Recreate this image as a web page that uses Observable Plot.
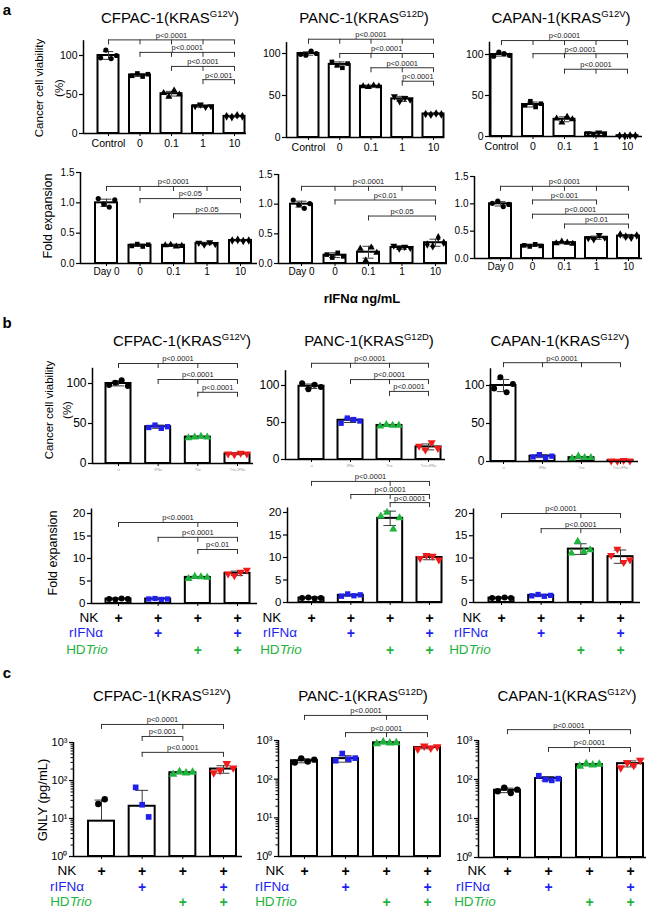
<!DOCTYPE html>
<html><head><meta charset="utf-8">
<script src="https://cdn.jsdelivr.net/npm/d3@7"></script>
<script src="https://cdn.jsdelivr.net/npm/@observablehq/plot@0.6"></script>
<style>
html,body{margin:0;padding:0;background:#fff;}
#fig{position:relative;width:660px;height:910px;overflow:hidden;font-family:"Liberation Sans",Arial,Helvetica,sans-serif;color:#000;background:#fff;}
.t{position:absolute;white-space:nowrap;line-height:1;transform:translate(-50%,-50%);}
.rot{transform:translate(-50%,-50%) rotate(-90deg);}
.title{font-size:15px;}
.title sup{font-size:9.5px;vertical-align:0;position:relative;top:-6px;}
.letter{font-size:15px;font-weight:bold;}
.cond{font-size:13.5px;}
</style></head><body><div id="fig"></div>
<script>
// ===================== DATA =====================
const cellNames = ["CFPAC-1", "PANC-1", "CAPAN-1"];
const cellMutations = ["G12V", "G12D", "G12V"];
const doseLabels = ["Control", "0", "0.1", "1", "10"];
const dayLabels = ["Day 0", "0", "0.1", "1", "10"];
const comboLabels = ["ct", "IFNa", "Trio", "Trio+IFNa"];
const pctTicks = [0, 50, 100];
const foldTicksA = [0, 0.5, 1.0, 1.5];
const foldTicksB = [0, 5, 10, 15, 20];
const logTicks = [1, 10, 100, 1000];
const condNK = [1, 1, 1, 1];
const condIFN = [0, 1, 0, 1];
const condTrio = [0, 0, 1, 1];

// a (top): cancer cell viability (%) vs rIFNa ng/mL
const aViabMean_CFPAC = [100, 75, 51, 35, 22];
const aViabSD_CFPAC = [5, 2, 3, 1.5, 1];
const aViabPts_CFPAC = [[97, 107, 96, 100], [74, 77, 73, 76], [52, 47, 55, 50], [35, 37, 34, 35], [22, 21, 23.5, 22]];
const aViabBr_CFPAC = [[0, 4, 120, "p<0.0001", [0, 1, 2, 3, 4]], [1, 4, 104, "p<0.0001", [1, 2, 3, 4]], [2, 4, 86, "p<0.0001", [2, 3, 4]], [3, 4, 69, "p<0.001", [3, 4]]];
const aViabMean_PANC = [100, 87, 61, 46, 28];
const aViabSD_PANC = [2, 3, 1, 3, 0.8];
const aViabPts_PANC = [[99, 98, 103, 100], [90, 86, 83, 88], [61, 60, 62, 61], [49, 43, 47, 45], [28, 27, 28.5, 27.5]];
const aViabBr_PANC = [[0, 4, 117, "p<0.0001", [0, 1, 2, 3, 4]], [1, 4, 100, "p<0.0001", [1, 2, 3, 4]], [2, 4, 83, "p<0.0001", [2, 3, 4]], [3, 4, 67, "p<0.0001", [3, 4]]];
const aViabMean_CAPAN = [100, 39, 21, 4, 1];
const aViabSD_CAPAN = [2, 3, 3, 1, 0.4];
const aViabPts_CAPAN = [[98, 103, 101, 99], [38, 43, 36, 40], [22, 17, 24, 21], [4, 3, 5, 3.5], [1, 0.5, 1.3, 1]];
const aViabBr_CAPAN = [[0, 4, 117, "p<0.0001", [0, 1, 2, 3, 4]], [1, 4, 101, "p<0.0001", [1, 2, 3, 4]], [2, 4, 82, "p<0.0001", [2, 3, 4]]];

// a (bottom): NK fold expansion vs rIFNa ng/mL
const aFoldMean_CFPAC = [1.0, 0.30, 0.30, 0.33, 0.38];
const aFoldSD_CFPAC = [0.06, 0.02, 0.015, 0.02, 0.01];
const aFoldPts_CFPAC = [[1.07, 0.98, 0.93, 1.05], [0.29, 0.32, 0.28, 0.31], [0.30, 0.31, 0.28, 0.29], [0.34, 0.31, 0.35, 0.32], [0.38, 0.39, 0.37, 0.38]];
const aFoldBr_CFPAC = [[0, 4, 1.27, "p<0.0001", [0, 1, 2, 3, 4]], [1, 4, 1.07, "p<0.05", [1, 4]], [2, 4, 0.82, "p<0.05", [2, 4]]];
const aFoldMean_PANC = [1.0, 0.14, 0.19, 0.27, 0.35];
const aFoldSD_PANC = [0.05, 0.04, 0.1, 0.03, 0.06];
const aFoldPts_PANC = [[1.07, 0.99, 0.93, 1.01], [0.15, 0.10, 0.18, 0.12], [0.25, 0.05, 0.27, 0.18], [0.30, 0.25, 0.28, 0.26], [0.32, 0.29, 0.44, 0.35]];
const aFoldBr_PANC = [[0, 4, 1.30, "p<0.0001", [0, 1, 2, 3, 4]], [1, 4, 1.07, "p<0.01", [1, 4]], [2, 4, 0.80, "p<0.05", [2, 4]]];
const aFoldMean_CAPAN = [1.0, 0.24, 0.29, 0.38, 0.41];
const aFoldSD_CAPAN = [0.04, 0.02, 0.02, 0.03, 0.03];
const aFoldPts_CAPAN = [[1.01, 1.05, 0.95, 0.99], [0.24, 0.22, 0.26, 0.23], [0.28, 0.31, 0.29, 0.27], [0.37, 0.35, 0.43, 0.38], [0.44, 0.40, 0.38, 0.42]];
const aFoldBr_CAPAN = [[0, 4, 1.32, "p<0.0001", [0, 1, 2, 3, 4]], [1, 3, 1.07, "p<0.001", [1, 3]], [1, 4, 0.81, "p<0.0001", [1, 4]], [2, 4, 0.63, "p<0.01", [2, 4]]];

// b (top): cancer cell viability (%) by treatment
const bViabMean_CFPAC = [100, 46, 33, 12];
const bViabSD_CFPAC = [3, 2, 1, 1];
const bViabPts_CFPAC = [[98, 101, 104, 97], [45, 48, 44, 46], [32, 33, 34, 33], [12, 11, 13, 12]];
const bViabBr_CFPAC = [[0, 3, 125, "p<0.0001", [0, 1, 2, 3]], [1, 3, 105, "p<0.0001", [1, 2, 3]], [2, 3, 89, "p<0.0001", [2, 3]]];
const bViabMean_PANC = [99, 53, 46, 17];
const bViabSD_PANC = [3, 3, 1, 4];
const bViabPts_PANC = [[103, 95, 101, 98], [49, 56, 54, 52], [45, 47, 46, 46], [18, 13, 23, 15]];
const bViabBr_PANC = [[0, 3, 130, "p<0.0001", [0, 1, 2, 3]], [1, 3, 108, "p<0.0001", [1, 2, 3]], [2, 3, 92, "p<0.0001", [2, 3]]];
const bViabMean_CAPAN = [100, 7, 5, 1];
const bViabSD_CAPAN = [8, 2, 1.5, 0.5];
const bViabPts_CAPAN = [[96, 111, 91, 102], [6, 9, 5, 7], [4, 7, 5, 5], [1, 0.5, 1.5, 1]];
const bViabBr_CAPAN = [[0, 3, 130, "p<0.0001", [0, 1, 2, 3]]];

// b (bottom): NK fold expansion by treatment
const bFoldMean_CFPAC = [1.0, 1.0, 5.8, 6.7];
const bFoldSD_CFPAC = [0.1, 0.1, 0.2, 0.5];
const bFoldPts_CFPAC = [[1.0, 0.9, 1.1, 1.0], [1.0, 1.1, 0.9, 1.0], [5.5, 6.0, 5.9, 5.8], [6.6, 6.2, 7.0, 7.4]];
const bFoldBr_CFPAC = [[0, 3, 18, "p<0.0001", [0, 2, 3]], [1, 3, 14.7, "p<0.0001", [1, 2, 3]], [2, 3, 12, "p<0.01", [2, 3]]];
const bFoldMean_PANC = [1.0, 1.6, 18.7, 10.0];
const bFoldSD_PANC = [0.1, 0.2, 1.6, 0.5];
const bFoldPts_PANC = [[1.0, 1.1, 0.9, 1.0], [1.4, 1.9, 1.5, 1.7], [19.2, 20.0, 16.3, 18.8], [9.8, 10.5, 10.3, 9.5]];
const bFoldBr_PANC = [[0, 3, 26.9, "p<0.0001", [0, 2, 3]], [1, 3, 24, "p<0.0001", [1, 2, 3]], [2, 3, 22.2, "p<0.0001", [2, 3]]];
const bFoldMean_CAPAN = [1.0, 1.6, 12.0, 10.3];
const bFoldSD_CAPAN = [0.1, 0.2, 1.2, 1.5];
const bFoldPts_CAPAN = [[1.0, 0.9, 1.1, 1.0], [1.5, 1.8, 1.4, 1.6], [11.1, 13.7, 11.4, 11.8], [10.6, 12.0, 9.0, 9.6]];
const bFoldBr_CAPAN = [[0, 3, 20, "p<0.0001", [0, 2, 3]], [1, 3, 16.6, "p<0.0001", [1, 2, 3]]];

// c: GNLY (pg/mL), log scale
const cGnlyMean_CFPAC = [8.5, 21, 160, 200];
const cGnlySD_CFPAC = [22, 34, 10, 45];
const cGnlyPts_CFPAC = [[24, 32], [66, 23, 11], [145, 170, 158, 165], [160, 185, 280, 215]];
const cGnlyBr_CFPAC = [[0, 3, 2980, "p<0.0001", [0, 2, 3]], [1, 2, 1440, "p<0.001", [1, 2]], [1, 3, 550, "p<0.0001", [1, 3]]];
const cGnlyMean_PANC = [300, 340, 870, 660];
const cGnlySD_PANC = [35, 65, 45, 50];
const cGnlyPts_PANC = [[270, 345, 285, 320], [300, 460, 330, 350], [820, 920, 860, 880], [600, 720, 640, 690]];
const cGnlyBr_PANC = [[0, 3, 4450, "p<0.0001", [0, 2, 3]], [1, 3, 1600, "p<0.0001", [1, 2, 3]]];
const cGnlyMean_CAPAN = [53, 106, 240, 255];
const cGnlySD_CAPAN = [7, 13, 15, 45];
const cGnlyPts_CAPAN = [[50, 62, 45, 55], [125, 100, 95, 105], [220, 255, 235, 245], [200, 270, 230, 310]];
const cGnlyBr_CAPAN = [[0, 3, 1900, "p<0.0001", [0, 2, 3]], [1, 3, 660, "p<0.0001", [1, 2, 3]]];

// ===================== STYLE / LAYOUT =====================
const BLUE = "#1f1fef", GREEN = "#1eb33c", RED = "#f21b1b";
const doseSymbols = ["circle", "square", "triangle", "triDown", "diamond"];
const doseColors = ["black", "black", "black", "black", "black"];
const comboSymbols = ["circle", "square", "triangle", "triDown"];
const comboColors = ["black", BLUE, GREEN, RED];
const condColors = ["black", BLUE, GREEN];
const supDigits = "⁰¹²³⁴⁵⁶⁷⁸⁹";
const logFmt = v => "10" + supDigits[Math.round(Math.log10(v))];
const logMinor = [1, 10, 100].flatMap(d => d3.range(2, 10).map(k => d * k));

const triDown = {
  draw(ctx, size) {
    const y = -Math.sqrt(size / (Math.sqrt(3) * 3));
    ctx.moveTo(0, -y * 2);
    ctx.lineTo(-Math.sqrt(3) * y, y);
    ctx.lineTo(Math.sqrt(3) * y, y);
    ctx.closePath();
  }
};

const LA_TOP = [
  {axisX: 83, bar0: 108, barN: 234, axisEnd: 246, y0: 133, yRef: 55, axisTop: 119},
  {axisX: 286, bar0: 308, barN: 433, axisEnd: 444, y0: 137, yRef: 53, axisTop: 113},
  {axisX: 489, bar0: 501, barN: 627, axisEnd: 642, y0: 136, yRef: 54, axisTop: 115}
];
const LA_BOT = [
  {axisX: 80, bar0: 106, barN: 240, axisEnd: 257, y0: 263, yRef: 172},
  {axisX: 278, bar0: 301, barN: 435, axisEnd: 447, y0: 263, yRef: 174},
  {axisX: 474, bar0: 500, barN: 628, axisEnd: 642, y0: 258, yRef: 176}
];
const LB_TOP = [
  {axisX: 92, bar0: 118, barN: 237, axisEnd: 253, y0: 463, yRef: 383, axisTop: 119},
  {axisX: 285, bar0: 311, barN: 428, axisEnd: 445, y0: 459, yRef: 385, axisTop: 120},
  {axisX: 490, bar0: 503, barN: 620, axisEnd: 638, y0: 461, yRef: 385, axisTop: 122}
];
const LB_BOT = [
  {axisX: 91, bar0: 118, barN: 237, axisEnd: 257, y0: 603, yRef: 513},
  {axisX: 287, bar0: 311, barN: 429, axisEnd: 442, y0: 602, yRef: 512},
  {axisX: 473, bar0: 501, barN: 620, axisEnd: 640, y0: 602, yRef: 513}
];
const LC = [
  {axisX: 73, bar0: 101, barN: 223, axisEnd: 242, y0: 856, yRef: 742},
  {axisX: 278, bar0: 304, barN: 427, axisEnd: 440, y0: 856, yRef: 740},
  {axisX: 478, bar0: 507, barN: 630, axisEnd: 646, y0: 857, yRef: 740}
];

const fig = document.getElementById("fig");

function makePanel(s) {
  const n = s.labels.length;
  const spacing = (s.barN - s.bar0) / (n - 1);
  const px = v => v / spacing;
  const left = s.axisX - 42;
  const width = Math.round(s.axisEnd - left + 10);
  const height = s.bottom - s.top;
  const base = s.log ? 1 : 0;
  const tr = v => s.log ? Math.log10(v) : v;
  const unit = (s.y0 - s.yRef) / (tr(s.refVal) - tr(base));
  const yPix = v => s.y0 - unit * (tr(v) - tr(base));
  const down = (v, p) => s.log ? v * Math.pow(10, -p / unit) : v - p / unit;
  const axisIdx = px(s.axisX - s.bar0);
  const endIdx = px(s.axisEnd - s.bar0);
  const bw = px(s.barW), cap = bw * 0.5, step = bw * 0.25;
  const rows = s.mean.map((m, i) => {
    const lo = m - s.sd[i];
    const ok = !(s.log && lo <= 0);
    return {i, m, hi: m + s.sd[i], lo: ok ? lo : m, hasLo: ok};
  });
  const brs = s.brackets.map(([from, to, y, label, ticks]) => ({from, to, y, label, ticks}));
  const marks = [
    Plot.rectY(rows, {x1: d => d.i - bw / 2, x2: d => d.i + bw / 2, y1: () => base, y2: "m", fill: "white", stroke: "black", strokeWidth: 2}),
    Plot.ruleX(rows, {x: "i", y1: "lo", y2: "hi", stroke: "#3a3a3a", strokeWidth: 1}),
    Plot.ruleY(rows, {y: "hi", x1: d => d.i - cap / 2, x2: d => d.i + cap / 2, stroke: "#3a3a3a", strokeWidth: 1}),
    Plot.ruleY(rows.filter(d => d.hasLo), {y: "lo", x1: d => d.i - cap / 2, x2: d => d.i + cap / 2, stroke: "#3a3a3a", strokeWidth: 1})
  ];
  s.pts.forEach((arr, i) => {
    const data = arr.map((v, k) => ({x: i + (k - (arr.length - 1) / 2) * step, v}));
    marks.push(Plot.dot(data, {x: "x", y: "v", r: s.r, symbol: s.symbols[i] === "triDown" ? triDown : s.symbols[i], fill: s.colors[i], stroke: "none"}));
  });
  marks.push(
    Plot.ruleX([axisIdx], {y1: () => base, y2: () => s.axisTop, stroke: "black", strokeWidth: 1.5}),
    Plot.ruleY([base], {x1: () => axisIdx, x2: () => endIdx, stroke: "black", strokeWidth: 1.5}),
    Plot.axisY({ticks: s.yTicks, tickFormat: s.yFormat, tickSize: 4, tickPadding: 2, fontSize: s.yFont, label: null, strokeWidth: 1.2}),
    Plot.axisX({ticks: d3.range(n), tickFormat: i => s.showX ? s.labels[i] : "", tickSize: 3, tickPadding: s.xPad, fontSize: s.xFont, fill: s.xFill, label: null}),
    Plot.ruleY(brs, {y: "y", x1: "from", x2: "to", stroke: "#333", strokeWidth: 1}),
    Plot.ruleX(brs.flatMap(b => b.ticks.map(t => ({t, y1: b.y, y2: down(b.y, 5)}))), {x: "t", y1: "y1", y2: "y2", stroke: "#333", strokeWidth: 1}),
    Plot.text(brs, {x: d => (d.from + d.to) / 2, y: "y", text: "label", dy: -4.5, fontSize: 7.5, fill: "#222"})
  );
  if (s.minor) marks.push(Plot.axisY({ticks: s.minor, tickSize: 2.5, tickFormat: () => "", label: null}));
  if (s.rowYs) {
    [condNK, condIFN, condTrio].forEach((vals, r) => {
      marks.push(Plot.text(d3.range(n).filter(i => vals[i]), {x: d => d, y: () => base, dy: s.rowYs[r] - s.y0, text: () => "+", fill: condColors[r], fontSize: 14, fontWeight: "bold"}));
    });
  }
  const svg = Plot.plot({
    width, height,
    marginLeft: s.axisX - left,
    marginRight: left + width - s.axisEnd,
    marginTop: yPix(s.axisTop) - s.top,
    marginBottom: s.bottom - s.y0,
    x: {type: "linear", domain: [0, n - 1], range: [s.bar0 - left, s.barN - left]},
    y: {type: s.log ? "log" : "linear", domain: [base, s.refVal], range: [s.y0 - s.top, s.yRef - s.top]},
    style: "background:transparent;overflow:visible;font-family:'Liberation Sans',Arial,sans-serif;color:#000;",
    marks
  });
  svg.style.position = "absolute";
  svg.style.left = left + "px";
  svg.style.top = s.top + "px";
  fig.appendChild(svg);
}

// ---- build panels
const aTopSets = [[aViabMean_CFPAC, aViabSD_CFPAC, aViabPts_CFPAC, aViabBr_CFPAC], [aViabMean_PANC, aViabSD_PANC, aViabPts_PANC, aViabBr_PANC], [aViabMean_CAPAN, aViabSD_CAPAN, aViabPts_CAPAN, aViabBr_CAPAN]];
aTopSets.forEach(([mean, sd, pts, brackets], k) => makePanel({
  ...LA_TOP[k], mean, sd, pts, brackets, labels: doseLabels, symbols: doseSymbols, colors: doseColors,
  refVal: 100, top: 24, bottom: 160, barW: 21, r: 2.6, yTicks: pctTicks, yFormat: d3.format("d"), yFont: 10.5,
  showX: true, xFont: 10.5, xPad: 3, xFill: "black"
}));
const aBotSets = [[aFoldMean_CFPAC, aFoldSD_CFPAC, aFoldPts_CFPAC, aFoldBr_CFPAC], [aFoldMean_PANC, aFoldSD_PANC, aFoldPts_PANC, aFoldBr_PANC], [aFoldMean_CAPAN, aFoldSD_CAPAN, aFoldPts_CAPAN, aFoldBr_CAPAN]];
aBotSets.forEach(([mean, sd, pts, brackets], k) => makePanel({
  ...LA_BOT[k], mean, sd, pts, brackets, labels: dayLabels, symbols: doseSymbols, colors: doseColors,
  refVal: 1.5, axisTop: 1.5, top: 160, bottom: 285, barW: 22, r: 2.6, yTicks: foldTicksA, yFormat: d3.format(".1f"), yFont: 10,
  showX: true, xFont: 10, xPad: 1, xFill: "black"
}));
const bTopSets = [[bViabMean_CFPAC, bViabSD_CFPAC, bViabPts_CFPAC, bViabBr_CFPAC], [bViabMean_PANC, bViabSD_PANC, bViabPts_PANC, bViabBr_PANC], [bViabMean_CAPAN, bViabSD_CAPAN, bViabPts_CAPAN, bViabBr_CAPAN]];
bTopSets.forEach(([mean, sd, pts, brackets], k) => makePanel({
  ...LB_TOP[k], mean, sd, pts, brackets, labels: comboLabels, symbols: comboSymbols, colors: comboColors,
  refVal: 100, top: 350, bottom: 478, barW: 25, r: 3, yTicks: pctTicks, yFormat: d3.format("d"), yFont: 12,
  showX: true, xFont: 3.5, xPad: 2, xFill: "#999"
}));
const bBotSets = [[bFoldMean_CFPAC, bFoldSD_CFPAC, bFoldPts_CFPAC, bFoldBr_CFPAC], [bFoldMean_PANC, bFoldSD_PANC, bFoldPts_PANC, bFoldBr_PANC], [bFoldMean_CAPAN, bFoldSD_CAPAN, bFoldPts_CAPAN, bFoldBr_CAPAN]];
bBotSets.forEach(([mean, sd, pts, brackets], k) => makePanel({
  ...LB_BOT[k], mean, sd, pts, brackets, labels: comboLabels, symbols: comboSymbols, colors: comboColors,
  refVal: 20, axisTop: 21, top: 470, bottom: 665, barW: 25, r: 3, yTicks: foldTicksB, yFormat: d3.format("d"), yFont: 11.5,
  showX: false, xFont: 3, xPad: 2, xFill: "#999", rowYs: [618, 633, 650]
}));
const cSets = [[cGnlyMean_CFPAC, cGnlySD_CFPAC, cGnlyPts_CFPAC, cGnlyBr_CFPAC], [cGnlyMean_PANC, cGnlySD_PANC, cGnlyPts_PANC, cGnlyBr_PANC], [cGnlyMean_CAPAN, cGnlySD_CAPAN, cGnlyPts_CAPAN, cGnlyBr_CAPAN]];
cSets.forEach(([mean, sd, pts, brackets], k) => makePanel({
  ...LC[k], mean, sd, pts, brackets, labels: comboLabels, symbols: comboSymbols, colors: comboColors,
  log: true, refVal: 1000, axisTop: 1000, top: 700, bottom: 910, barW: 26, r: 3.2, yTicks: logTicks, yFormat: logFmt, yFont: 11,
  minor: logMinor, showX: false, xFont: 3, xPad: 2, xFill: "#999", rowYs: [871, 887, 902]
}));

// ---- HTML text
function addText(html, x, y, cls, css) {
  const d = document.createElement("div");
  d.className = "t " + (cls || "");
  d.innerHTML = html;
  d.style.left = x + "px";
  d.style.top = y + "px";
  if (css) d.style.cssText += css;
  fig.appendChild(d);
}
const titleX = {a: [170, 364, 561], b: [182, 369, 560], c: [162, 363, 567]};
const titleY = {a: 17, b: 340, c: 695};
["a", "b", "c"].forEach(p => cellNames.forEach((nm, k) =>
  addText(`${nm}(KRAS<sup>${cellMutations[k]}</sup>)`, titleX[p][k], titleY[p], "title")));
addText("a", 7, 9, "letter");
addText("b", 7, 322, "letter");
addText("c", 7, 672, "letter");
addText("Cancer cell viability", 40, 88, "rot", "font-size:11.5px;");
addText("(%)", 60, 88, "rot", "font-size:11.5px;");
addText("Fold expansion", 48, 216, "rot", "font-size:12.5px;");
addText("rIFN&alpha; ng/mL", 362, 298, "", "font-size:13px;font-weight:bold;");
addText("Cancer cell viability", 50, 410, "rot", "font-size:11.5px;");
addText("(%)", 68, 410, "rot", "font-size:11.5px;");
addText("Fold expansion", 53, 553, "rot", "font-size:12.5px;");
addText("GNLY (pg/mL)", 42, 800, "rot", "font-size:13px;");
const condLabelHTML = ["NK", "rIFN&alpha;", "HD<i>Trio</i>"];
const condLabelX_b = [[89, 272, 472], [86, 280, 471], [87, 281, 470]];
const condLabelX_c = [[67, 275, 477], [67, 272, 473], [71, 276, 475]];
const condY_b = [618, 633, 650], condY_c = [871, 887, 902];
condLabelHTML.forEach((h, r) => {
  for (let k = 0; k < 3; k++) {
    addText(h, condLabelX_b[r][k], condY_b[r], "cond", `color:${condColors[r]};`);
    addText(h, condLabelX_c[r][k], condY_c[r], "cond", `color:${condColors[r]};`);
  }
});
</script></body></html>
